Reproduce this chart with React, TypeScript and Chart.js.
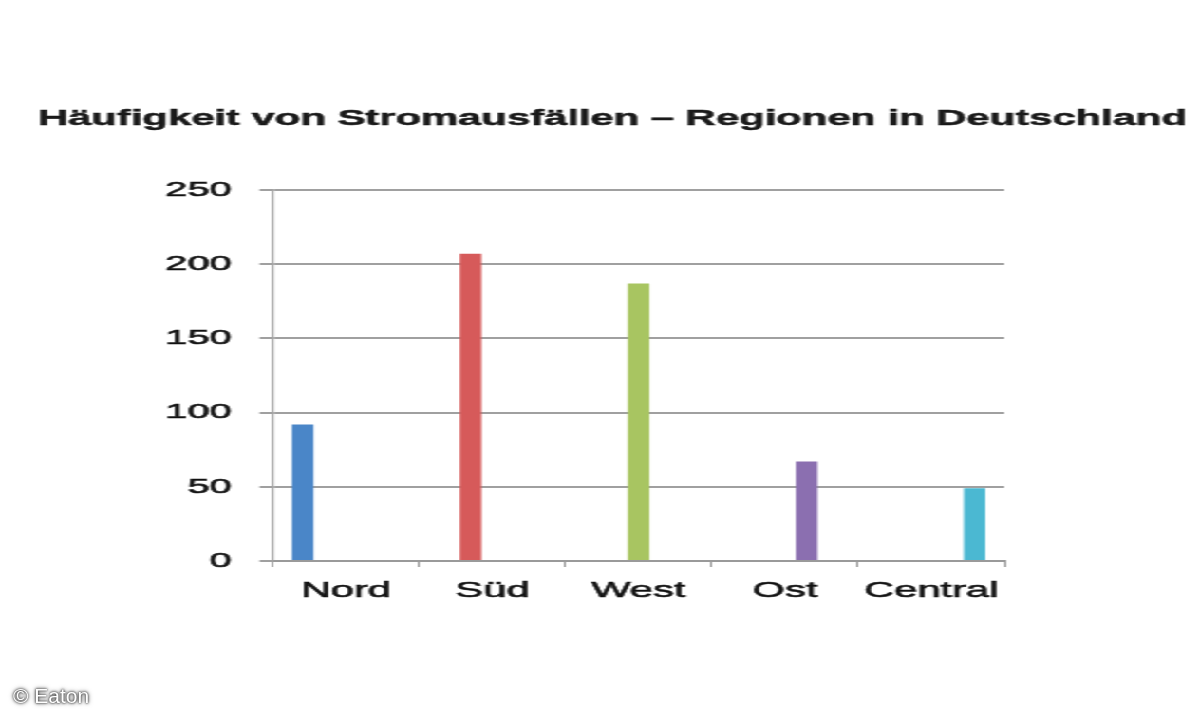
import React, { useEffect, useRef } from "react";
import { Chart, registerables } from "chart.js";

Chart.register(...registerables);

const TITLE = "Häufigkeit von Stromausfällen – Regionen in Deutschland";
const CREDIT = "© Eaton";
const categories = ["Nord", "Süd", "West", "Ost", "Central"];
const values = [92, 207, 187, 67, 49];
const colors = ["#4a86c8", "#d65a5a", "#a8c561", "#8b6fb0", "#4bb8d2"];
const yTicks = [0, 50, 100, 150, 200, 250];

const LOGICAL_W = 632;
const H = 720;
const SX = 1200 / LOGICAL_W;

const titlePlugin = {
  id: "refTitle",
  afterDraw(chart: any) {
    const ctx = chart.ctx;
    ctx.save();
    ctx.font = 'bold 22px "Liberation Sans", Arial, sans-serif';
    ctx.fillStyle = "#1a1a1a";
    ctx.strokeStyle = "#1a1a1a";
    ctx.lineWidth = 0.5;
    ctx.textAlign = "left";
    ctx.textBaseline = "alphabetic";
    ctx.fillText(TITLE, 20, 125);
    ctx.strokeText(TITLE, 20, 125);
    ctx.restore();
  },
};

export default function App() {
  const ref = useRef<HTMLCanvasElement | null>(null);

  useEffect(() => {
    if (!ref.current) return;
    const datasets = categories.map((c, i) => ({
      label: c,
      data: categories.map((_, j) => (j === i ? values[i] : null)),
      backgroundColor: colors[i],
      borderWidth: 0,
      categoryPercentage: 0.74,
      barPercentage: 1,
    }));
    const chart = new Chart(ref.current, {
      type: "bar",
      data: { labels: categories, datasets },
      plugins: [titlePlugin],
      options: {
        responsive: false,
        animation: false,
        devicePixelRatio: 1,
        layout: { padding: { left: 87, right: 103, top: 190, bottom: 104.6 } },
        plugins: {
          legend: { display: false },
          tooltip: { enabled: false },
          title: { display: false },
        },
        scales: {
          x: {
            type: "category",
            offset: true,
            grid: {
              offset: true,
              drawOnChartArea: false,
              drawTicks: true,
              tickLength: 6,
              color: "#9a9a9a",
              lineWidth: 1,
            },
            border: { display: true, color: "#9a9a9a", width: 2 },
            ticks: {
              font: { family: '"Liberation Sans", Arial, sans-serif', size: 22 },
              color: "#111",
              textStrokeColor: "#111",
              textStrokeWidth: 0.6,
              padding: 11,
              maxRotation: 0,
              autoSkip: false,
            },
          },
          y: {
            min: 0,
            max: 250,
            afterBuildTicks: (s: any) => {
              s.ticks = yTicks.map((v) => ({ value: v }));
            },
            afterFit: (s: any) => {
              s.width = 56.7;
            },
            ticks: {
              font: { family: '"Liberation Sans", Arial, sans-serif', size: 21 },
              color: "#111",
              textStrokeColor: "#111",
              textStrokeWidth: 0.6,
              padding: 14.7,
            },
            grid: {
              color: "#a0a0a0",
              lineWidth: 2,
              tickLength: 7,
              drawTicks: true,
            },
            border: { display: true, color: "#a0a0a0", width: 1.2 },
          },
        },
      },
    });
    return () => chart.destroy();
  }, []);

  return (
    <>
      <div
        style={{
          position: "fixed",
          left: 0,
          top: 0,
          width: LOGICAL_W,
          height: H,
          transform: `scaleX(${SX})`,
          transformOrigin: "0 0",
          background: "#fff",
        }}
      >
        <canvas
          ref={ref}
          width={LOGICAL_W}
          height={H}
          style={{ width: LOGICAL_W, height: H, display: "block" }}
        />
      </div>
      <div
        style={{
          position: "fixed",
          left: 13,
          top: 684,
          fontFamily: '"Liberation Sans", Arial, sans-serif',
          fontSize: 21,
          color: "#fff",
          textShadow: "0 0 2px #444, 0 0 3px #444, 0 0 5px #666",
          whiteSpace: "nowrap",
        }}
      >
        {CREDIT}
      </div>
    </>
  );
}
